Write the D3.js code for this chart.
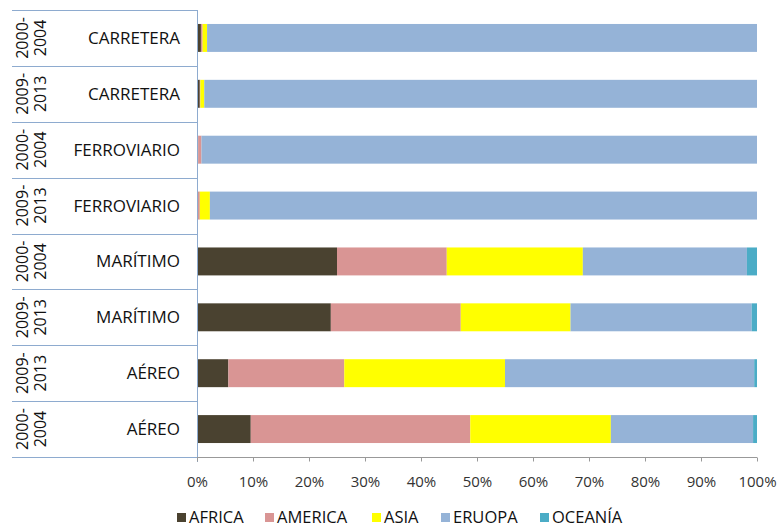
<!DOCTYPE html>
<meta charset="utf-8">
<style>
body { margin: 0; background: #fff; }
text { font-family: "Open Sans", "Noto Sans", sans-serif; }
</style>
<svg></svg>
<script src="https://cdn.jsdelivr.net/npm/d3@7/dist/d3.min.js"></script>
<script>

// rows top to bottom
var modes = ['CARRETERA', 'CARRETERA', 'FERROVIARIO', 'FERROVIARIO', 'MARÍTIMO', 'MARÍTIMO', 'AÉREO', 'AÉREO']
var periods = ['2000-2004', '2009-2013', '2000-2004', '2009-2013', '2000-2004', '2009-2013', '2009-2013', '2000-2004']
var regions = ['AFRICA', 'AMERICA', 'ASIA', 'ERUOPA', 'OCEANÍA']

// percent shares per row
var africa  = [0.7, 0.5, 0.2, 0.1, 25.0, 23.9, 5.6, 9.6]
var america = [0.3, 0.1, 0.6, 0.4, 19.6, 23.2, 20.7, 39.2]
var asia    = [0.8, 0.7, 0.0, 1.8, 24.3, 19.6, 28.7, 25.1]
var europa  = [98.2, 98.7, 99.2, 97.7, 29.3, 32.35, 44.5, 25.4]
var oceania = [0.0, 0.0, 0.0, 0.0, 1.8, 0.95, 0.5, 0.7]

var colors = ['#4a4230', '#d99594', '#ffff00', '#95b3d7', '#4bacc6']
var xTicks = [0, 10, 20, 30, 40, 50, 60, 70, 80, 90, 100]

var width = 778, height = 530
var m = {left: 197, right: 757, top: 10, bottom: 457}
var lineColor = '#8eabcf'

var svg = d3.select('svg').attr('width', width).attr('height', height)

var rows = modes.map(function (md, i) {
    return {mode: md, period: periods[i], africa: africa[i], america: america[i], asia: asia[i], europa: europa[i], oceania: oceania[i]}
})
var keys = ['africa', 'america', 'asia', 'europa', 'oceania']
var series = d3.stack().keys(keys)(rows)

var x = d3.scaleLinear().domain([0, 100]).range([m.left, m.right])
var y = d3.scaleBand().domain(d3.range(rows.length)).range([m.top, m.bottom]).paddingInner(0.5).paddingOuter(0.25)
var band = d3.scaleBand().domain(d3.range(rows.length)).range([m.top, m.bottom])

// bars
svg.append('g').selectAll('g')
    .data(series)
    .enter().append('g')
    .attr('fill', (d, i) => colors[i])
    .selectAll('rect')
    .data(d => d)
    .enter().append('rect')
    .attr('x', d => x(d[0]))
    .attr('y', (d, i) => y(i))
    .attr('width', d => Math.max(0, x(d[1]) - x(d[0])))
    .attr('height', y.bandwidth())

// row separators on the label side
var seps = d3.range(rows.length + 1).map(i => i < rows.length ? band(i) : m.bottom)
svg.append('g').selectAll('line')
    .data(seps)
    .enter().append('line')
    .attr('x1', 12).attr('x2', m.left)
    .attr('y1', d => Math.round(d) + 0.5).attr('y2', d => Math.round(d) + 0.5)
    .attr('stroke', lineColor).attr('stroke-width', 1)

// vertical axis line
svg.append('line')
    .attr('x1', m.left + 0.5).attr('x2', m.left + 0.5)
    .attr('y1', m.top).attr('y2', m.bottom + 5)
    .attr('stroke', lineColor)

// x axis
var xAxis = d3.axisBottom(x).tickValues(xTicks).tickFormat(d => d + '%').tickSize(4).tickPadding(15)
var gx = svg.append('g').attr('transform', 'translate(0,' + (m.bottom + 0.5) + ')').call(xAxis)
gx.select('.domain').attr('stroke', '#999').attr('d', 'M' + m.left + ',0H' + m.right)
gx.selectAll('.tick line').attr('stroke', '#999')
gx.selectAll('.tick text').attr('fill', '#333').style('font-size', '15px')

// category labels
svg.append('g').selectAll('text')
    .data(rows)
    .enter().append('text')
    .attr('x', 180)
    .attr('y', (d, i) => band(i) + band.bandwidth() / 2)
    .attr('dy', '0.35em')
    .attr('text-anchor', 'end')
    .attr('fill', '#111')
    .style('font-size', '17px')
    .text(d => d.mode)

// period labels, rotated, two lines
var per = svg.append('g').selectAll('g')
    .data(rows)
    .enter().append('g')
    .attr('transform', (d, i) => 'translate(0,' + (band(i) + band.bandwidth() / 2) + ') rotate(-90)')
per.append('text')
    .attr('x', 0).attr('y', 28)
    .attr('text-anchor', 'middle')
    .attr('fill', '#111')
    .style('font-size', '16px')
    .text(d => d.period.split('-')[0] + '-')
per.append('text')
    .attr('x', 0).attr('y', 46)
    .attr('text-anchor', 'middle')
    .attr('fill', '#111')
    .style('font-size', '16px')
    .text(d => d.period.split('-')[1])

// legend
var legendX = [177, 265, 372, 441, 540]
var lg = svg.append('g').selectAll('g')
    .data(regions)
    .enter().append('g')
    .attr('transform', (d, i) => 'translate(' + legendX[i] + ',512)')
lg.append('rect')
    .attr('x', 0).attr('y', 1)
    .attr('width', 9).attr('height', 9)
    .attr('fill', (d, i) => colors[i])
lg.append('text')
    .attr('x', 12).attr('y', 11)
    .attr('fill', '#111')
    .style('font-size', '16.5px')
    .text(d => d)

</script>
